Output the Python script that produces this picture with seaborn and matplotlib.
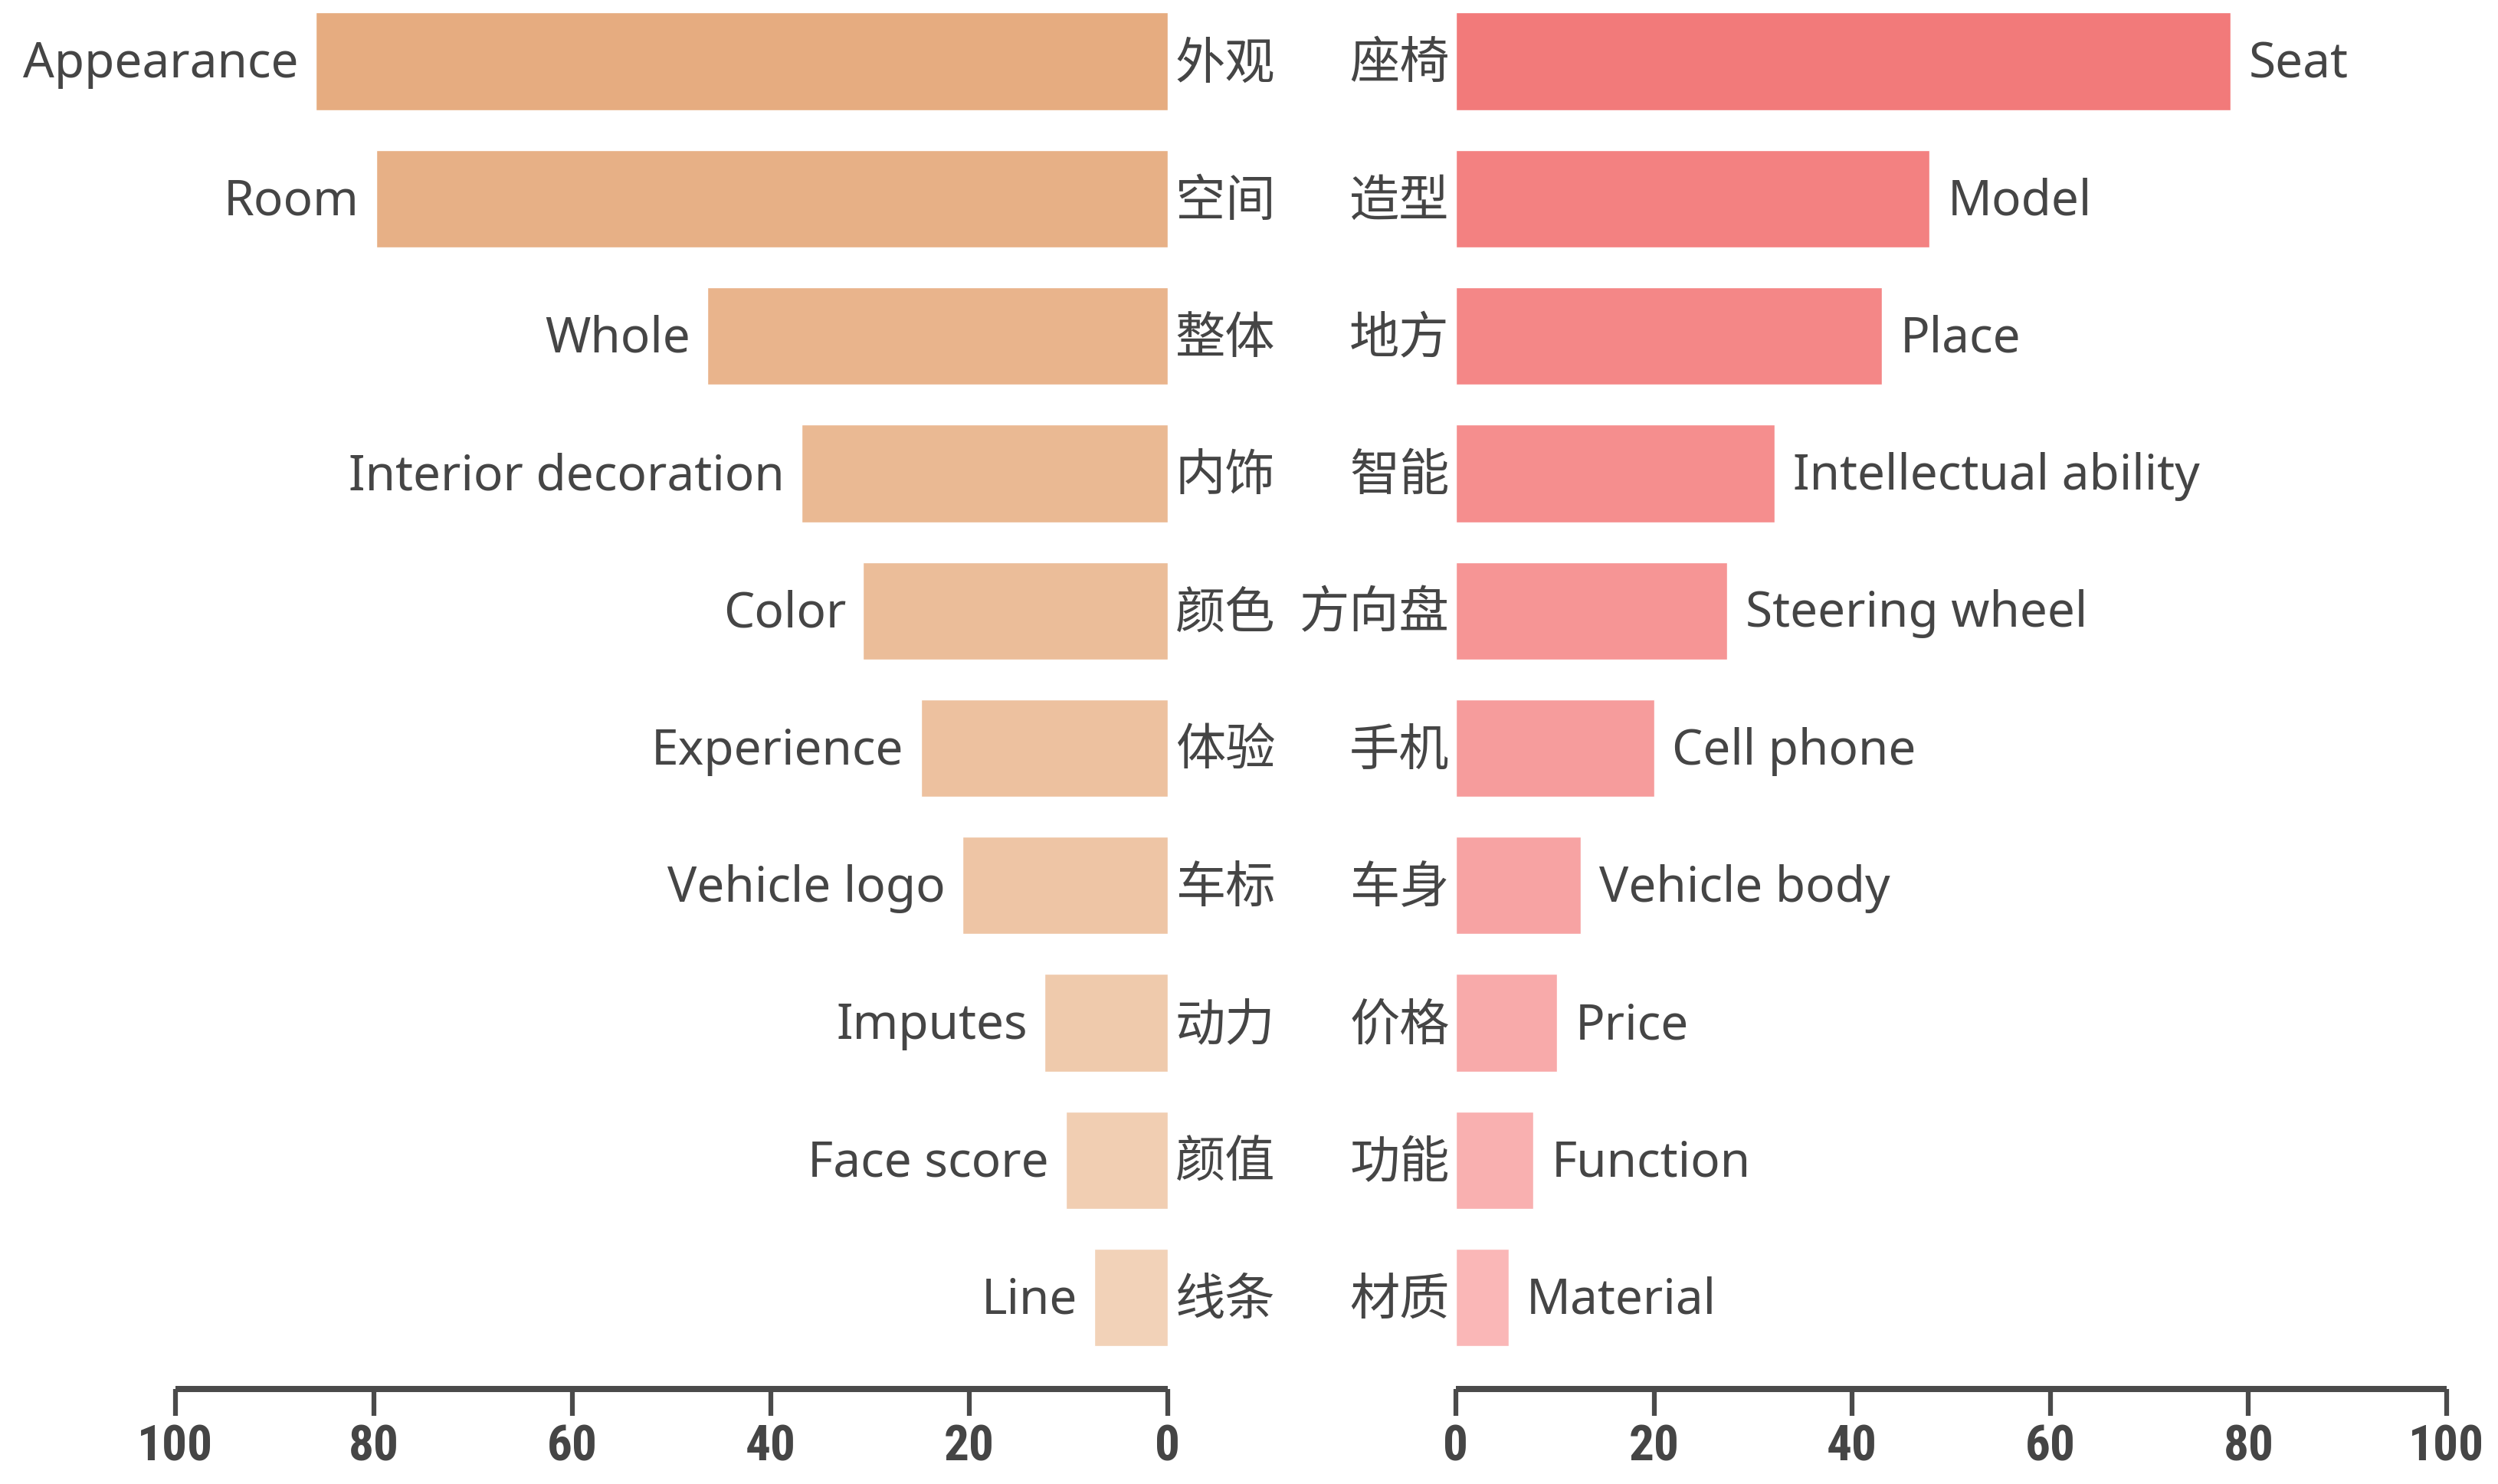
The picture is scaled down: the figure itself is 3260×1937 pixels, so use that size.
import numpy as np
import pandas as pd
import matplotlib.pyplot as plt
import seaborn as sns

left_en = ['Appearance', 'Room', 'Whole', 'Interior decoration', 'Color',
           'Experience', 'Vehicle logo', 'Imputes', 'Face score', 'Line']
left_cn = ['外观', '空间', '整体', '内饰', '颜色', '体验', '车标', '动力', '颜值', '线条']
left_values = [85.9, 79.8, 46.4, 36.9, 30.7, 24.9, 20.7, 12.4, 10.3, 7.4]

right_en = ['Seat', 'Model', 'Place', 'Intellectual ability', 'Steering wheel',
            'Cell phone', 'Vehicle body', 'Price', 'Function', 'Material']
right_cn = ['座椅', '造型', '地方', '智能', '方向盘', '手机', '车身', '价格', '功能', '材质']
right_values = [78.2, 47.8, 43.0, 32.2, 27.4, 20.0, 12.6, 10.2, 7.8, 5.3]

ticks = [0, 20, 40, 60, 80, 100]

sns.set_style('white')
plt.rcParams['font.family'] = ['Noto Sans', 'Noto Sans CJK SC', 'DejaVu Sans']

TEXT = '#454545'
AXIS = '#4a4a4a'
left_pal = sns.blend_palette(['#E6AC80', '#F2D2B8'], len(left_en))
right_pal = sns.blend_palette(['#F27A7A', '#FAB7B7'], len(right_en))

W, H = 3260, 1937
fig = plt.figure(figsize=(W / 100, H / 100), dpi=100)
bottom = 1 - 1813 / H
ax_l = fig.add_axes([229 / W, bottom, (1524 - 229) / W, 1 - bottom])
ax_r = fig.add_axes([1900 / W, bottom, (3193 - 1900) / W, 1 - bottom])

df_l = pd.DataFrame({'en': left_en, 'value': left_values})
df_r = pd.DataFrame({'en': right_en, 'value': right_values})

sns.barplot(data=df_l, x='value', y='en', hue='en', palette=left_pal, legend=False,
            orient='h', width=0.71, saturation=1, ax=ax_l)
sns.barplot(data=df_r, x='value', y='en', hue='en', palette=right_pal, legend=False,
            orient='h', width=0.71, saturation=1, ax=ax_r)

ax_l.set_xlim(100, 0)
ax_r.set_xlim(0, 100)

for ax in (ax_l, ax_r):
    ax.set_ylim(9.665, -0.446)
    ax.set_yticks([])
    ax.set_xticks(ticks)
    ax.set_xticklabels([str(t) for t in ticks], fontweight='bold', fontsize=47,
                       color=TEXT, family=['Roboto Condensed', 'Roboto'])
    ax.set_xlabel('')
    ax.set_ylabel('')
    for s in ['top', 'left', 'right']:
        ax.spines[s].set_visible(False)
    ax.spines['bottom'].set_linewidth(5.8)
    ax.spines['bottom'].set_color(AXIS)
    ax.spines['bottom'].set_capstyle('butt')
    ax.tick_params(axis='x', bottom=True, direction='out', length=25, width=4.5,
                   color=AXIS, pad=8)
    ax.patch.set_alpha(0)

for i in range(len(left_en)):
    ax_l.annotate(left_en[i], (left_values[i], i), xytext=(-16, -3),
                  textcoords='offset points', ha='right', va='center',
                  fontsize=46, color=TEXT, annotation_clip=False)
    ax_l.annotate(left_cn[i], (0, i), xytext=(7, -3),
                  textcoords='offset points', ha='left', va='center',
                  fontsize=47, color=TEXT, family=['Noto Sans CJK SC'],
                  annotation_clip=False)

for i in range(len(right_en)):
    ax_r.annotate(right_en[i], (right_values[i], i), xytext=(17, -3),
                  textcoords='offset points', ha='left', va='center',
                  fontsize=46, color=TEXT, annotation_clip=False)
    ax_r.annotate(right_cn[i], (0, i), xytext=(-6, -3),
                  textcoords='offset points', ha='right', va='center',
                  fontsize=47, color=TEXT, family=['Noto Sans CJK SC'],
                  annotation_clip=False)

fig.savefig('out.png', dpi=100, facecolor='white')
